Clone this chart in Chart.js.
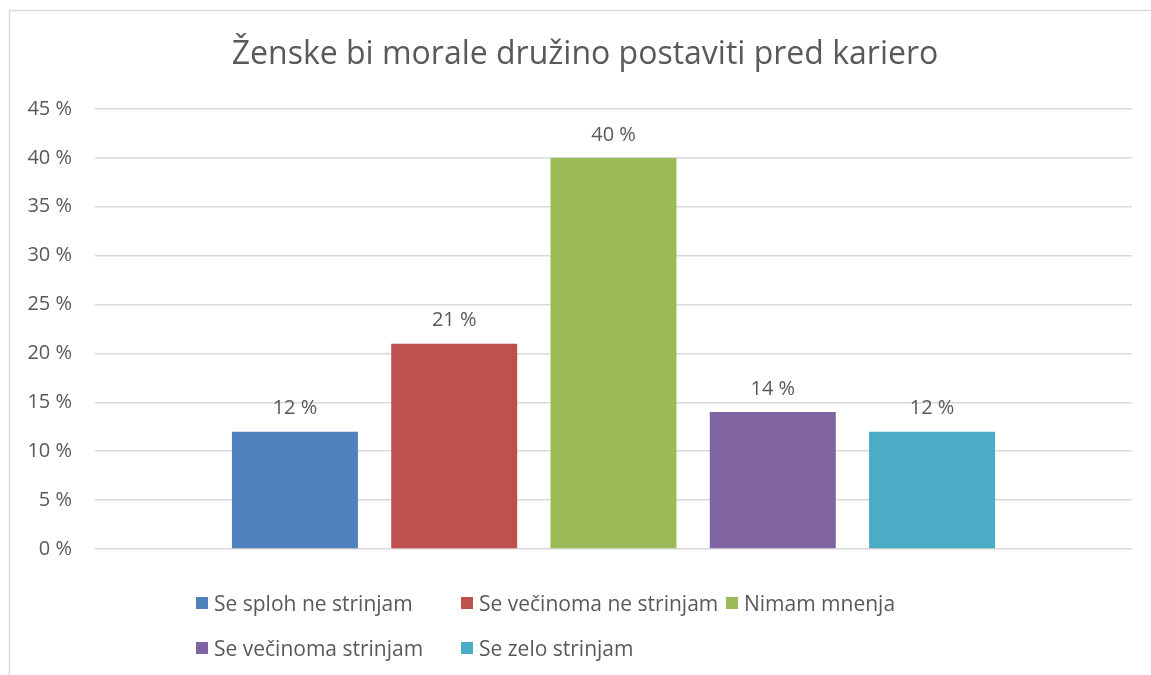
<!DOCTYPE html>
<html>
<head>
<meta charset="utf-8">
<script src="https://cdn.jsdelivr.net/npm/chart.js@4/dist/chart.umd.min.js"></script>
<style>
  body { margin: 0; background: #fff; }
  #wrap { position: relative; width: 1151px; height: 675px; overflow: hidden; }
  #legend {
    position: absolute; left: 196px; top: 580px;
    display: grid; grid-template-columns: repeat(3, 265px); grid-auto-rows: 45px;
    font-family: "Open Sans", sans-serif; font-size: 21px; color: #595959;
  }
  #legend .item { display: flex; align-items: center; white-space: nowrap; }
  #legend .sw { width: 12px; height: 12px; margin-right: 6px; flex: none; }
</style>
</head>
<body>
<div id="wrap">
  <canvas id="c" width="1151" height="675"></canvas>
  <div id="legend"></div>
</div>
<script>
// chart data
var title = "Ženske bi morale družino postaviti pred kariero";
var answers = ["Se sploh ne strinjam", "Se večinoma ne strinjam", "Nimam mnenja", "Se večinoma strinjam", "Se zelo strinjam"];
var percents = [12, 21, 40, 14, 12];
var colors = ["#4f81bd", "#c0504d", "#9bbb59", "#8064a2", "#4bacc6"];
var yTicks = [0, 5, 10, 15, 20, 25, 30, 35, 40, 45];

var textColor = "#595959";
var fontFamily = '"Open Sans", sans-serif';

var datasets = answers.map(function(name, i) {
  return {
    label: name,
    data: [percents[i]],
    backgroundColor: colors[i],
    borderWidth: 0,
    categoryPercentage: 0.768,
    barPercentage: 0.791
  };
});

// outer frame (only top and left edges are visible in the crop) and the title,
// which is centred on the frame rather than on the plot
var framePlugin = {
  id: "frame",
  beforeDraw: function(chart) {
    var ctx = chart.ctx;
    ctx.save();
    ctx.strokeStyle = "#d9d9d9";
    ctx.lineWidth = 1.5;
    ctx.strokeRect(9.5, 10.5, 3000, 3000);
    ctx.font = "32px " + fontFamily;
    ctx.fillStyle = textColor;
    ctx.textAlign = "center";
    ctx.textBaseline = "middle";
    ctx.fillText(title, 585, 55);
    ctx.restore();
  }
};

// value labels above bars
var valueLabels = {
  id: "valueLabels",
  afterDatasetsDraw: function(chart) {
    var ctx = chart.ctx;
    ctx.save();
    ctx.font = "20px " + fontFamily;
    ctx.fillStyle = textColor;
    ctx.textAlign = "center";
    ctx.textBaseline = "middle";
    chart.data.datasets.forEach(function(ds, i) {
      var bar = chart.getDatasetMeta(i).data[0];
      ctx.fillText(ds.data[0] + " %", bar.x, bar.y - 23);
    });
    ctx.restore();
  }
};

var chart = new Chart(document.getElementById("c"), {
  type: "bar",
  data: { labels: [""], datasets: datasets },
  options: {
    responsive: false,
    animation: false,
    layout: { padding: { left: 0, right: 19, top: 109, bottom: 118 } },
    plugins: {
      legend: { display: false },
      tooltip: { enabled: false },
      title: { display: false }
    },
    scales: {
      x: {
        grid: { display: false },
        border: { display: false },
        ticks: { display: false }
      },
      y: {
        min: 0,
        max: 45,
        afterBuildTicks: function(scale) {
          scale.ticks = yTicks.map(function(v) { return { value: v }; });
        },
        afterFit: function(scale) { scale.width = 95; },
        grid: { color: "#d9d9d9", lineWidth: 1.5, drawTicks: false },
        border: { display: false },
        ticks: {
          padding: 23,
          color: textColor,
          font: { family: fontFamily, size: 20 },
          callback: function(v) { return v + " %"; }
        }
      }
    }
  },
  plugins: [framePlugin, valueLabels]
});

// legend in three columns like the original
var legend = document.getElementById("legend");
answers.forEach(function(name, i) {
  var item = document.createElement("div");
  item.className = "item";
  var sw = document.createElement("span");
  sw.className = "sw";
  sw.style.background = colors[i];
  var txt = document.createElement("span");
  txt.textContent = name;
  item.appendChild(sw);
  item.appendChild(txt);
  legend.appendChild(item);
});
</script>
</body>
</html>
